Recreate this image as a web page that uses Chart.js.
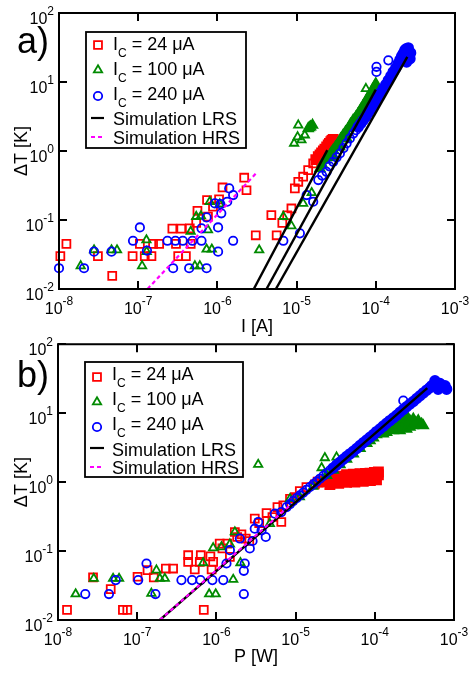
<!DOCTYPE html>
<html>
<head>
<meta charset="utf-8">
<script src="https://cdn.jsdelivr.net/npm/chart.js@4/dist/chart.umd.min.js"></script>
<style>
  html, body { margin: 0; padding: 0; background: #fff; }
  canvas { display: block; }
</style>
</head>
<body>
<canvas id="panelA" width="472" height="336"></canvas>
<canvas id="panelB" width="472" height="337"></canvas>
<script>
// decade exponents used for ticks
const xTickExp = [-8, -7, -6, -5, -4, -3];
const yTickExp = [-2, -1, 0, 1, 2];

const currentLabels = ['24 μA', '100 μA', '240 μA'];
const simLabels = ['Simulation LRS', 'Simulation HRS'];

// ---- panel a) : dT vs I  [A, K] ----
const redOpenA = [[1.04e-8,0.030],[1.24e-8,0.045],[3.1e-8,0.030],[4.7e-8,0.0155],[8.5e-8,0.030],[1.05e-7,0.045],[1.21e-7,0.030],[1.47e-7,0.030],[1.54e-7,0.045],[1.84e-7,0.045],[2.7e-7,0.075],[3.5e-7,0.075],[3.0e-7,0.045],[3.2e-7,0.030],[4.0e-7,0.030],[4.6e-7,0.045],[4.48e-7,0.0757],[5.4e-7,0.091],[5.6e-7,0.136],[7.4e-7,0.195],[7.6e-7,0.112],[8.8e-7,0.156],[1.05e-6,0.199],[1.16e-6,0.296],[2.18e-6,0.41],[2.33e-6,0.27],[3.05e-6,0.060],[4.8e-6,0.118],[5.6e-6,0.060],[6.6e-6,0.091],[7.6e-6,0.117],[8.6e-6,0.147],[9.5e-6,0.287],[1.05e-5,0.358],[1.21e-5,0.424],[1.40e-5,0.528],[1.62e-5,0.66]];
const redDenseA = [[1.75e-5,0.75],[1.88e-5,0.824],[1.98e-5,0.88],[2.07e-5,0.94],[2.18e-5,1.0],[2.28e-5,1.06],[2.4e-5,1.14],[2.51e-5,1.22],[2.6e-5,1.29],[2.71e-5,1.36],[2.8e-5,1.42],[2.90e-5,1.47],[2.63e-5,1.15],[2.45e-5,1.05],[2.2e-5,0.92],[2.85e-5,1.3],[2.95e-5,1.38]];

const greenOpenA = [[1.88e-8,0.0216],[2.77e-8,0.0367],[4.6e-8,0.0367],[5.4e-8,0.0367],[1.27e-7,0.0513],[1.28e-7,0.0348],[1.12e-7,0.0216],[4.6e-7,0.068],[5.4e-7,0.112],[6.2e-7,0.114],[5.2e-7,0.0216],[6.0e-7,0.0216],[7.3e-7,0.0376],[8.5e-7,0.0376],[8.0e-7,0.184],[7.6e-7,0.0716],[1.07e-6,0.170],[3.37e-6,0.0367],[6.8e-6,0.112],[8.6e-6,0.082],[1.21e-5,0.174],[1.55e-5,0.248],[9.3e-6,1.29],[1.05e-5,2.37],[1.03e-5,1.60],[1.15e-5,1.44],[1.27e-5,1.70],[7.5e-5,8.0]];
const greenDenseA = [[1.40e-5,2.12],[1.45e-5,2.18],[1.50e-5,2.24],[1.59e-5,2.37],[1.97e-5,0.558],[2.1e-5,0.64],[2.28e-5,0.738],[2.45e-5,0.80],[2.63e-5,0.871],[2.75e-5,0.95],[2.90e-5,1.03],[3.1e-5,1.15],[3.36e-5,1.29],[3.6e-5,1.5],[3.88e-5,1.70],[4.15e-5,1.9],[4.49e-5,2.12],[4.8e-5,2.45],[5.19e-5,2.80],[5.6e-5,3.1],[6.0e-5,3.49],[6.45e-5,4.0],[6.95e-5,4.61],[7.5e-5,5.3],[8.03e-5,6.09],[8.6e-5,6.9],[9.12e-5,7.76],[9.6e-5,8.6],[1.0e-4,9.48],[2.90e-5,0.824],[3.5e-5,1.15],[4.28e-5,1.52],[5.2e-5,2.2],[6.3e-5,2.96],[7.3e-5,3.9],[8.43e-5,4.88],[9.5e-5,6.0]];

const blueOpenA = [[1.0e-8,0.020],[2.07e-8,0.020],[2.77e-8,0.0348],[4.6e-8,0.0348],[1.05e-7,0.078],[8.6e-8,0.050],[1.29e-7,0.036],[2.34e-7,0.050],[2.76e-7,0.020],[2.95e-7,0.050],[3.66e-7,0.050],[4.4e-7,0.020],[4.84e-7,0.050],[6.3e-7,0.050],[6.3e-7,0.0757],[7.3e-7,0.020],[7.3e-7,0.109],[1.02e-6,0.0348],[1.02e-6,0.078],[1.12e-6,0.125],[9.3e-7,0.174],[1.09e-6,0.170],[1.41e-6,0.287],[1.58e-6,0.23],[1.33e-6,0.184],[1.58e-6,0.050],[6.8e-6,0.050],[1.10e-5,0.064],[1.34e-5,0.23],[1.62e-5,0.184],[1.88e-5,0.379],[2.1e-5,0.44],[2.39e-5,0.50],[2.6e-5,0.6],[2.90e-5,0.698],[3.2e-5,0.81],[3.52e-5,0.92],[3.9e-5,1.1],[4.28e-5,1.29],[4.7e-5,1.52],[5.19e-5,1.79],[5.6e-5,2.0],[1.02e-4,16.6],[1.02e-4,14.0],[1.44e-4,20.6]];
const blueDenseA = [[6.0e-5,2.24],[6.45e-5,2.5],[6.95e-5,2.80],[7.5e-5,3.15],[8.03e-5,3.57],[8.65e-5,4.05],[9.29e-5,4.61],[1.0e-4,5.3],[1.07e-4,6.09],[1.15e-4,7.0],[1.24e-4,8.03],[1.34e-4,9.2],[1.44e-4,10.6],[1.55e-4,12.2],[1.66e-4,14.0],[1.79e-4,16.0],[1.92e-4,18.5],[2.02e-4,21.0],[2.12e-4,23.6],[2.33e-4,28.8],[2.4e-4,30.0],[2.57e-4,31.2],[2.6e-4,28.0],[2.75e-4,26.4],[2.65e-4,24.0],[2.70e-4,21.8],[2.55e-4,22.0],[2.45e-4,19.5],[2.22e-4,25.8]];

const lrsA1 = [[2.88e-6,0.01],[2.44e-5,1.03]];
const lrsA2 = [[4.17e-6,0.01],[1.0e-4,7.76]];
const lrsA3 = [[5.47e-6,0.01],[2.50e-4,23.1]];
const hrsA = [[1.31e-7,0.01],[3.12e-6,0.483]];

// ---- panel b) : dT vs P  [W, K] ----
const redOpenB = [[1.30e-8,0.0140],[2.77e-8,0.0414],[4.63e-8,0.0281],[6.6e-8,0.014],[7.5e-8,0.014],[1.01e-7,0.0424],[1.35e-7,0.0528],[1.62e-7,0.0414],[2.3e-7,0.0558],[2.84e-7,0.0558],[4.4e-7,0.0871],[4.4e-7,0.0697],[5.33e-7,0.054],[6.35e-7,0.0871],[6.17e-7,0.0697],[6.93e-7,0.014],[8.4e-7,0.084],[9.1e-7,0.0697],[8.7e-7,0.054],[1.10e-6,0.128],[1.19e-6,0.109],[1.37e-6,0.128],[1.48e-6,0.0824],[1.71e-6,0.189],[1.83e-6,0.160],[2.07e-6,0.175],[2.35e-6,0.152],[2.6e-6,0.140],[3.05e-6,0.295],[3.47e-6,0.255],[4.3e-6,0.356],[5.1e-6,0.312],[5.9e-6,0.435],[6.6e-6,0.264],[7.0e-6,0.46],[8.5e-6,0.574],[9.8e-6,0.607],[1.13e-5,0.741],[1.37e-5,0.847],[1.75e-5,0.925]];
const redDenseB = [[1.93e-5,1.0],[2.08e-5,1.01],[2.23e-5,1.03],[2.4e-5,1.045],[2.58e-5,1.06],[2.78e-5,1.07],[2.99e-5,1.08],[3.3e-5,1.09],[3.63e-5,1.10],[4.0e-5,1.12],[4.4e-5,1.14],[4.85e-5,1.155],[5.35e-5,1.17],[5.9e-5,1.18],[6.5e-5,1.19],[7.15e-5,1.205],[7.9e-5,1.22],[8.7e-5,1.235],[9.6e-5,1.25],[1.03e-4,1.265],[1.11e-4,1.28],[3.3e-5,1.22],[4.4e-5,1.28],[5.35e-5,1.3],[6.5e-5,1.32],[7.6e-5,1.34],[8.7e-5,1.35],[9.9e-5,1.38],[1.11e-4,1.40],[2.71e-5,0.925],[3.5e-5,0.96],[4.4e-5,0.99],[5.6e-5,1.0],[7.15e-5,1.03],[8.8e-5,1.05],[1.05e-4,1.08]];

const greenOpenB = [[1.67e-8,0.0238],[2.83e-8,0.040],[4.96e-8,0.040],[5.9e-8,0.040],[1.51e-7,0.0243],[1.75e-7,0.0528],[1.93e-7,0.040],[2.23e-7,0.040],[6.8e-7,0.0675],[8.1e-7,0.0238],[9.8e-7,0.0238],[9.1e-7,0.111],[1.16e-6,0.115],[1.63e-6,0.0387],[1.48e-6,0.126],[1.71e-6,0.189],[2.01e-6,0.0675],[3.37e-6,1.80],[4.73e-6,0.25],[8.5e-6,0.574],[2.34e-5,2.25],[2.13e-5,1.61],[3.29e-5,2.30],[1.13e-5,0.607],[1.67e-5,0.865]];
const greenDenseB = [[2.46e-5,1.25],[3.0e-5,1.5],[3.63e-5,1.80],[4.4e-5,2.15],[5.35e-5,2.57],[6.5e-5,3.1],[7.9e-5,3.66],[8.7e-5,4.0],[9.6e-5,4.38],[1.05e-4,4.9],[1.16e-4,5.58],[1.28e-4,5.9],[1.28e-4,5.0],[1.41e-4,6.24],[1.41e-4,5.28],[1.55e-4,6.6],[1.71e-4,6.97],[1.71e-4,5.58],[1.89e-4,7.3],[1.89e-4,6.0],[2.08e-4,7.96],[2.08e-4,6.6],[2.08e-4,5.58],[2.3e-4,9.72],[2.3e-4,7.6],[2.3e-4,6.6],[2.52e-4,9.2],[2.52e-4,7.36],[2.52e-4,5.9],[2.78e-4,7.7],[2.78e-4,6.3],[3.06e-4,8.24],[3.06e-4,6.6],[3.3e-4,7.3],[3.54e-4,7.79],[3.9e-4,6.97],[4.1e-4,6.6]];

const blueOpenB = [[2.21e-8,0.0238],[4.4e-8,0.0238],[5.36e-8,0.0379],[1.03e-7,0.0379],[1.31e-7,0.066],[1.70e-7,0.0238],[3.62e-7,0.0379],[4.93e-7,0.0379],[6.3e-7,0.0379],[8.9e-7,0.0379],[1.22e-6,0.0379],[1.34e-6,0.066],[1.48e-6,0.103],[1.98e-6,0.152],[2.22e-6,0.0238],[2.28e-6,0.066],[2.22e-6,0.0517],[2.64e-6,0.109],[2.86e-6,0.140],[3.05e-6,0.211],[3.37e-6,0.264],[4.2e-6,0.160],[3.72e-6,0.2],[5.47e-6,0.348],[6.6e-6,0.368],[7.7e-6,0.435],[8.5e-6,0.48],[9.3e-6,0.531],[1.03e-5,0.585],[1.13e-5,0.641],[1.25e-5,0.705],[1.37e-5,0.774],[1.52e-5,0.85],[1.67e-5,0.925],[1.84e-5,1.02],[2.03e-5,1.12],[2.24e-5,1.23],[2.46e-5,1.35],[2.72e-5,1.48],[2.29e-4,15.2]];
const blueDenseB = [[2.99e-5,1.61],[3.3e-5,1.78],[3.63e-5,1.94],[4.0e-5,2.15],[4.4e-5,2.35],[4.85e-5,2.57],[5.35e-5,2.80],[5.9e-5,3.08],[6.5e-5,3.39],[7.15e-5,3.72],[7.9e-5,4.09],[8.7e-5,4.47],[9.6e-5,4.89],[1.05e-4,5.4],[1.16e-4,5.90],[1.28e-4,6.5],[1.41e-4,7.13],[1.55e-4,7.8],[1.71e-4,8.51],[1.89e-4,9.35],[2.08e-4,10.3],[2.29e-4,11.3],[2.52e-4,12.4],[2.78e-4,13.6],[3.06e-4,14.8],[3.38e-4,16.3],[3.72e-4,17.9],[4.1e-4,19.7],[4.52e-4,21.6],[4.9e-4,23.2],[5.22e-4,25.0],[5.75e-4,29.5],[6.65e-4,27.0],[7.7e-4,25.0],[8.07e-4,22.3],[6.3e-4,22.3]];

const lrsB = [[1.93e-7,0.01],[4.6e-4,23.1]];
const hrsB = [[1.93e-7,0.01],[8.5e-6,0.46]];

const RED = '#ff0000', GREEN = '#008a00', BLUE = '#0000ff', MAGENTA = '#ff00ff';
const FONT = '"Liberation Sans", Arial, Helvetica, sans-serif';
const markers = [
    { style: 'rect', radius: 5.6, color: RED },
    { style: 'triangle', radius: 4.8, color: GREEN },
    { style: 'circle', radius: 4.2, color: BLUE }
];

const toPoints = (pairs) => pairs.map(p => ({ x: p[0], y: p[1] }));

function markerSet(pairs, m, filled) {
    const r = filled ? m.radius * 1.15 : m.radius;
    return {
        data: toPoints(pairs),
        pointStyle: m.style,
        pointRadius: r,
        pointHoverRadius: r,
        pointBorderWidth: 1.8,
        pointBorderColor: m.color,
        pointBackgroundColor: filled ? m.color : 'rgba(0,0,0,0)',
        showLine: false,
        clip: false
    };
}

function lineSet(pairs, color, dash) {
    return {
        data: toPoints(pairs),
        showLine: true,
        borderColor: color,
        borderWidth: dash ? 2.2 : 2.4,
        borderDash: dash || [],
        pointRadius: 0,
        pointHoverRadius: 0,
        fill: false
    };
}

function drawMarker(ctx, m, x, y) {
    const r = m.radius;
    ctx.beginPath();
    if (m.style === 'rect') {
        const s = r * Math.SQRT1_2;
        ctx.rect(x - s, y - s, 2 * s, 2 * s);
    } else if (m.style === 'triangle') {
        ctx.moveTo(x, y - r);
        ctx.lineTo(x + r * 0.866, y + r * 0.5);
        ctx.lineTo(x - r * 0.866, y + r * 0.5);
        ctx.closePath();
    } else {
        ctx.arc(x, y, r, 0, Math.PI * 2);
    }
    ctx.strokeStyle = m.color;
    ctx.lineWidth = 1.8;
    ctx.stroke();
}

const panelDecor = {
    id: 'panelDecor',
    afterDraw(chart, args, o) {
        const ctx = chart.ctx;
        const { left, right, top, bottom } = chart.chartArea;
        const sx = chart.scales.x, sy = chart.scales.y;
        ctx.save();

        // frame and inward ticks on all sides
        ctx.strokeStyle = '#000';
        ctx.lineWidth = 2;
        ctx.strokeRect(left, top, right - left, bottom - top);
        ctx.beginPath();
        xTickExp.forEach(e => {
            const px = Math.round(sx.getPixelForValue(Math.pow(10, e)));
            ctx.moveTo(px, bottom); ctx.lineTo(px, bottom - 8);
            ctx.moveTo(px, top); ctx.lineTo(px, top + 8);
        });
        yTickExp.forEach(e => {
            const py = Math.round(sy.getPixelForValue(Math.pow(10, e)));
            ctx.moveTo(left, py); ctx.lineTo(left + 8, py);
            ctx.moveTo(right, py); ctx.lineTo(right - 8, py);
        });
        ctx.stroke();

        // tick labels 10^n
        ctx.fillStyle = '#000';
        ctx.textAlign = 'left';
        ctx.textBaseline = 'alphabetic';
        const big = '16px ' + FONT, small = '12px ' + FONT;
        xTickExp.forEach(e => {
            const px = sx.getPixelForValue(Math.pow(10, e));
            ctx.font = big; const w10 = ctx.measureText('10').width;
            ctx.font = small; const we = ctx.measureText(String(e)).width;
            const x0 = px - (w10 + we) / 2;
            ctx.font = big; ctx.fillText('10', x0, bottom + 25);
            ctx.font = small; ctx.fillText(String(e), x0 + w10, bottom + 16);
        });
        yTickExp.forEach(e => {
            const py = sy.getPixelForValue(Math.pow(10, e));
            ctx.font = big; const w10 = ctx.measureText('10').width;
            ctx.font = small; const we = ctx.measureText(String(e)).width;
            const xe = left - 5 - we;
            ctx.font = small; ctx.fillText(String(e), xe, py + 2);
            ctx.font = big; ctx.fillText('10', xe - w10, py + 11);
        });

        // axis titles
        ctx.font = '18px ' + FONT;
        ctx.textAlign = 'center';
        ctx.fillText(o.xTitle, (left + right) / 2, o.xTitleY);
        ctx.save();
        ctx.translate(27, (top + bottom) / 2);
        ctx.rotate(-Math.PI / 2);
        ctx.fillText('ΔT [K]', 0, 0);
        ctx.restore();

        // panel tag
        ctx.textAlign = 'left';
        ctx.font = '36px ' + FONT;
        ctx.fillText(o.tag, 17, o.tagY);

        // legend
        const b = o.box;
        ctx.fillStyle = '#fff';
        ctx.fillRect(b[0], b[1], b[2] - b[0], b[3] - b[1]);
        ctx.strokeStyle = '#000';
        ctx.lineWidth = 1.8;
        ctx.strokeRect(b[0], b[1], b[2] - b[0], b[3] - b[1]);
        markers.forEach((m, i) => {
            drawMarker(ctx, m, o.markX, o.markY[i]);
            let x = o.textX;
            const base = o.baseY[i];
            ctx.fillStyle = '#000';
            ctx.font = '18px ' + FONT;
            ctx.fillText('I', x, base);
            x += ctx.measureText('I').width;
            ctx.font = '12px ' + FONT;
            ctx.fillText('C', x, base + 7);
            x += ctx.measureText('C').width;
            ctx.font = '18px ' + FONT;
            ctx.fillText(' = ' + currentLabels[i], x, base);
        });
        [['#000', []], [MAGENTA, [4, 3]]].forEach((s, j) => {
            const y = o.markY[3 + j];
            ctx.beginPath();
            ctx.strokeStyle = s[0];
            ctx.lineWidth = 2.2;
            ctx.setLineDash(s[1]);
            ctx.moveTo(o.lineX[0], y); ctx.lineTo(o.lineX[1], y);
            ctx.stroke();
            ctx.setLineDash([]);
            ctx.fillStyle = '#000';
            ctx.font = '18px ' + FONT;
            ctx.fillText(simLabels[j], o.textX, o.baseY[3 + j]);
        });
        ctx.restore();
    }
};

function makePanel(id, datasets, padding, decor) {
    new Chart(document.getElementById(id), {
        type: 'scatter',
        data: { datasets },
        options: {
            responsive: false,
            animation: false,
            devicePixelRatio: 1,
            layout: { padding },
            events: [],
            scales: {
                x: { type: 'logarithmic', min: 1e-8, max: 1e-3, display: false },
                y: { type: 'logarithmic', min: 1e-2, max: 1e2, display: false }
            },
            plugins: {
                legend: { display: false },
                tooltip: { enabled: false },
                panelDecor: decor
            }
        },
        plugins: [panelDecor]
    });
}

// first dataset is drawn on top
makePanel('panelA', [
    lineSet(hrsA, MAGENTA, [4, 3]),
    lineSet(lrsA1, '#000'),
    lineSet(lrsA2, '#000'),
    lineSet(lrsA3, '#000'),
    markerSet(blueDenseA, markers[2], true),
    markerSet(blueOpenA, markers[2], false),
    markerSet(greenDenseA, markers[1], true),
    markerSet(greenOpenA, markers[1], false),
    markerSet(redDenseA, markers[0], true),
    markerSet(redOpenA, markers[0], false)
], { left: 59, right: 17, top: 13, bottom: 47 }, {
    tag: 'a)', tagY: 53, xTitle: 'I [A]', xTitleY: 332,
    box: [86, 32, 246, 148], markX: 98, lineX: [91, 104], textX: 113,
    markY: [45, 70, 96, 118, 137], baseY: [50, 75, 100, 125, 144]
});

makePanel('panelB', [
    lineSet(hrsB, MAGENTA, [4, 3]),
    lineSet(lrsB, '#000'),
    markerSet(blueDenseB, markers[2], true),
    markerSet(blueOpenB, markers[2], false),
    markerSet(greenDenseB, markers[1], true),
    markerSet(greenOpenB, markers[1], false),
    markerSet(redDenseB, markers[0], true),
    markerSet(redOpenB, markers[0], false)
], { left: 58, right: 18, top: 7, bottom: 53 }, {
    tag: 'b)', tagY: 51, xTitle: 'P [W]', xTitleY: 326,
    box: [85, 26, 243, 141], markX: 97, lineX: [90, 104], textX: 112,
    markY: [41, 66, 91, 112, 131], baseY: [44, 69, 94, 120, 138]
});
</script>
</body>
</html>
